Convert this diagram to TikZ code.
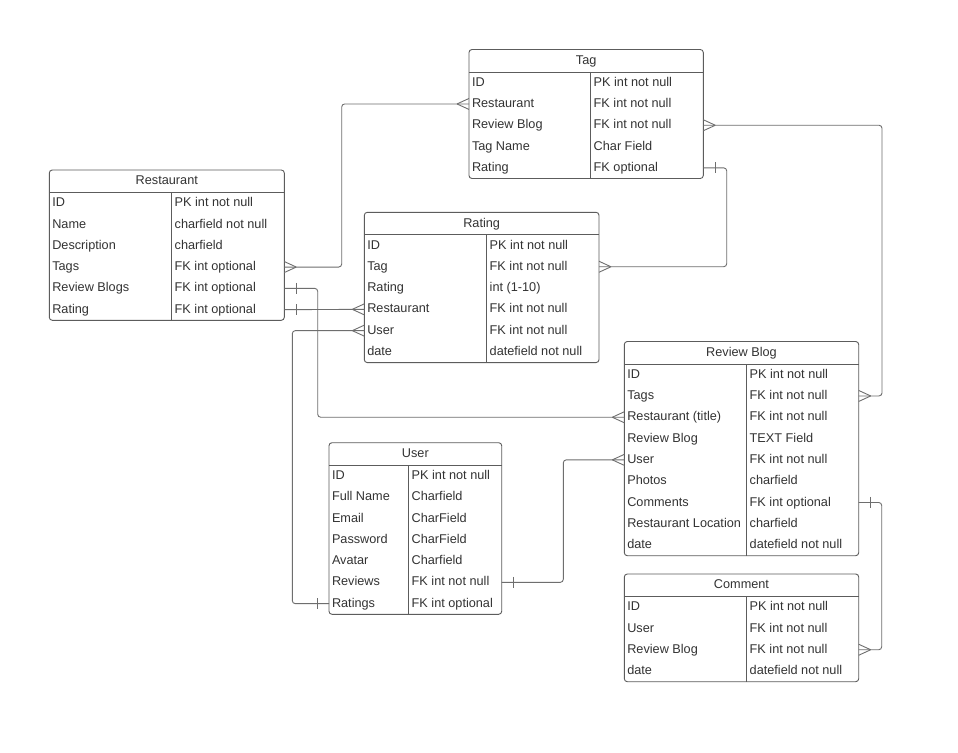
\documentclass[tikz,border=0pt]{standalone}
\usepackage{fontspec}
\setmainfont{Liberation Sans}
\usetikzlibrary{calc}
\definecolor{boxc}{HTML}{5C5C5C}
\definecolor{linec}{HTML}{6E6E6E}
\definecolor{txtc}{HTML}{333333}
\tikzset{
  tablebox/.style={draw=boxc, line width=0.9pt, rounded corners=3pt, inner sep=0pt, outer sep=0pt, fill=white},
  boxline/.style={draw=boxc, line width=0.9pt},
  rowcell/.style={inner sep=0pt, outer sep=0pt, minimum height=21.3pt},
  celltext/.style={inner sep=0pt, outer sep=0pt, text=txtc, font=\fontsize{12.7}{15}\selectfont, anchor=base west},
  conn/.style={draw=linec, line width=0.9pt, rounded corners=3pt},
  connmark/.style={draw=linec, line width=0.9pt}
}
% #1 name, #2 x, #3 y, #4 width, #5 column offset, #6 title, #7 rows, #8 row count
\newcommand\ertable[8]{%
  \node[tablebox, anchor=north west, minimum width=#4, minimum height={22.5+21.3*#8}] (#1) at (#2,#3) {};
  \node[celltext, anchor=base] (#1-t) at ({#2+#4/2},{#3+11.25+3.6}) {#6};
  \draw[boxline] ($(#1.north west)+(0,22.5)$) -- ++(#4,0);
  \draw[boxline] ($(#1.north west)+(#5,22.5)$) -- ++(0,{21.3*#8});
  \foreach \lt/\rt [count=\i] in {#7} {%
    \node[rowcell, minimum width=#4, anchor=north west] (#1-\i) at (#2,{#3+22.5+21.3*(\i-1)}) {};
    \node[celltext] (#1-\i-l) at ([xshift=3pt,yshift=-3.6pt]#1-\i.west) {\lt};
    \node[celltext] (#1-\i-r) at ([xshift={#5+3},yshift=-3.6pt]#1-\i.west) {\rt};
  }%
}
\newcommand\crowfoot[2]{\draw[connmark] ($(#1)+(#2*12,0)$) -- ($(#1)+(0,-5.5)$) ($(#1)+(#2*12,0)$) -- ($(#1)+(0,5.5)$);}
\newcommand\onetick[2]{\draw[connmark] ($(#1)+(#2*12,-5.5)$) -- ($(#1)+(#2*12,5.5)$);}
\begin{document}
\begin{tikzpicture}[x=1pt,y=-1pt]
\path[use as bounding box, fill=white] (0,0) rectangle (958,752);

\ertable{tag}{469}{49.5}{234.3}{121.7}{Tag}{ID/PK int not null, Restaurant/FK int not null, Review Blog/FK int not null, Tag Name/Char Field, Rating/FK optional}{5}
\ertable{rest}{49.3}{170}{235}{122.4}{Restaurant}{ID/PK int not null, Name/charfield not null, Description/charfield, Tags/FK int optional, Review Blogs/FK int optional, Rating/FK int optional}{6}
\ertable{rating}{364.3}{212.3}{234.7}{122.4}{Rating}{ID/PK int not null, Tag/FK int not null, Rating/int (1-10), Restaurant/FK int not null, User/FK int not null, date/datefield not null}{6}
\ertable{blog}{624.3}{341.5}{234.4}{122.4}{Review Blog}{ID/PK int not null, Tags/FK int not null, Restaurant (title)/FK int not null, Review Blog/TEXT Field, User/FK int not null, Photos/charfield, Comments/FK int optional, Restaurant Location/charfield, date/datefield not null}{9}
\ertable{user}{329}{442.7}{172.7}{79.7}{User}{ID/PK int not null, Full Name/Charfield, Email/CharField, Password/CharField, Avatar/Charfield, Reviews/FK int not null, Ratings/FK int optional}{7}
\ertable{comment}{624.3}{574}{234.4}{122.4}{Comment}{ID/PK int not null, User/FK int not null, Review Blog/FK int not null, date/datefield not null}{4}

% connectors
\draw[conn] (rest-4.east) -- ++(57.4,0) |- (tag-2.west);
\crowfoot{rest-4.east}{1}
\crowfoot{tag-2.west}{-1}

\draw[conn] (rest-5.east) -- ++(33.4,0) |- (blog-3.west);
\onetick{rest-5.east}{1}
\crowfoot{blog-3.west}{-1}

\draw[conn] (rest-6.east) -- (rating-4.west);
\onetick{rest-6.east}{1}
\crowfoot{rating-4.west}{-1}

\draw[conn] (user-7.west) -- ++(-36.7,0) |- (rating-5.west);
\onetick{user-7.west}{-1}
\crowfoot{rating-5.west}{-1}

\draw[conn] (user-6.east) -- ++(61.6,0) |- (blog-5.west);
\onetick{user-6.east}{1}
\crowfoot{blog-5.west}{-1}

\draw[conn] (tag-3.east) -- ++(178.7,0) |- (blog-2.east);
\crowfoot{tag-3.east}{1}
\crowfoot{blog-2.east}{1}

\draw[conn] (tag-5.east) -- ++(23.4,0) |- (rating-2.east);
\onetick{tag-5.east}{1}
\crowfoot{rating-2.east}{1}

\draw[conn] (blog-7.east) -- ++(23,0) |- (comment-3.east);
\onetick{blog-7.east}{1}
\crowfoot{comment-3.east}{1}
\end{tikzpicture}
\end{document}
